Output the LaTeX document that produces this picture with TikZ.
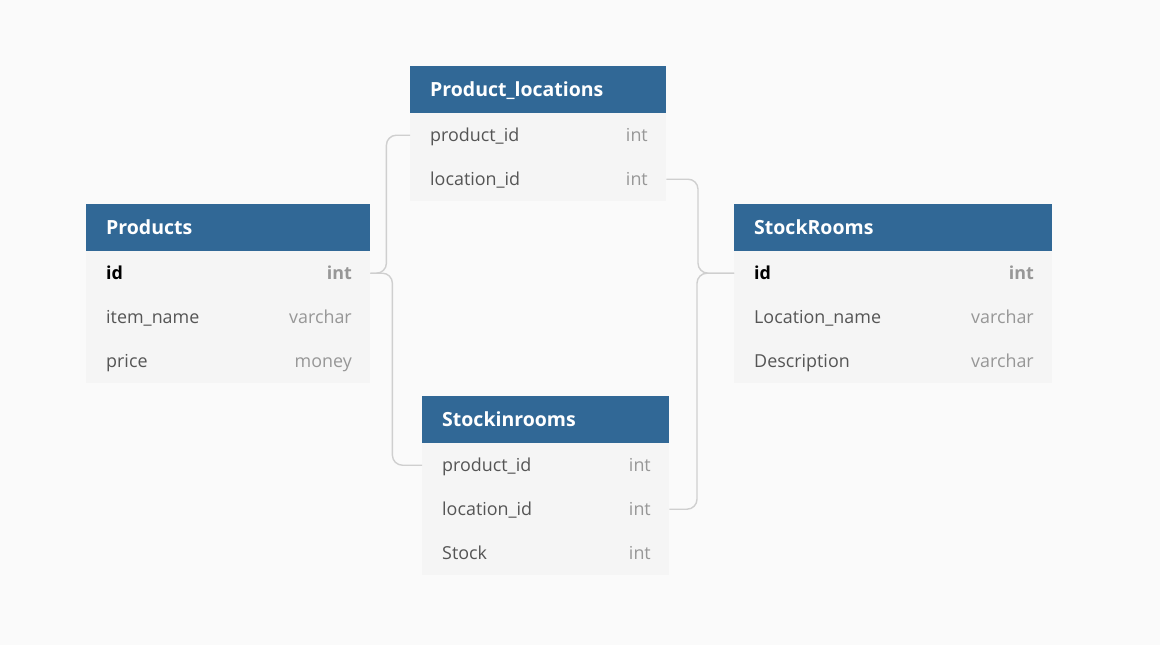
\documentclass[tikz,border=0pt]{standalone}
\usepackage{fontspec}
\setmainfont{Open Sans}
\definecolor{bg}{HTML}{FAFAFA}
\definecolor{hdr}{HTML}{316896}
\definecolor{rowbg}{HTML}{F5F5F5}
\definecolor{fld}{HTML}{555555}
\definecolor{typ}{HTML}{979797}
\definecolor{conn}{HTML}{CFCFCF}
\tikzset{
  hdrbox/.style={fill=hdr, draw=none, anchor=north west, minimum height=47pt, inner sep=0pt},
  rowbox/.style={fill=rowbg, draw=none, anchor=north west, minimum height=44pt, inner sep=0pt},
  hdrtext/.style={anchor=base west, text=white, font=\fontsize{19.5}{23}\selectfont\bfseries, inner sep=0pt, yshift=-7pt},
  fieldtext/.style={anchor=base west, text=fld, font=\fontsize{17.9}{21}\selectfont, inner sep=0pt, yshift=-6.5pt},
  typetext/.style={anchor=base east, text=typ, font=\fontsize{17.9}{21}\selectfont, inner sep=0pt, yshift=-6.5pt},
  pkfield/.style={anchor=base west, text=black, font=\fontsize{17.9}{21}\selectfont\bfseries, inner sep=0pt, yshift=-6.5pt},
  pktype/.style={anchor=base east, text=typ, font=\fontsize{17.9}{21}\selectfont\bfseries, inner sep=0pt, yshift=-6.5pt},
  link/.style={draw=conn, line width=1.4pt, rounded corners=10pt}
}
\begin{document}
\begin{tikzpicture}[x=1pt,y=-1pt]
\fill[bg] (0,0) rectangle (1160,645);
\useasboundingbox (0,0) rectangle (1160,645);

% Products
\node[hdrbox, minimum width=284pt] (p-h) at (86,204) {};
\node[rowbox, minimum width=284pt] (p-r1) at (86,251) {};
\node[rowbox, minimum width=284pt] (p-r2) at (86,295) {};
\node[rowbox, minimum width=284pt] (p-r3) at (86,339) {};
\node[hdrtext] (p-t) at (106,227) {Products};
\node[pkfield] (p-f1) at (106,273) {id};
\node[pktype] (p-y1) at (352,273) {int};
\node[fieldtext] (p-f2) at (106,317) {item\_name};
\node[typetext] (p-y2) at (352,317) {varchar};
\node[fieldtext] (p-f3) at (106,361) {price};
\node[typetext] (p-y3) at (352,361) {money};

% Product_locations
\node[hdrbox, minimum width=256pt] (pl-h) at (410,66) {};
\node[rowbox, minimum width=256pt] (pl-r1) at (410,113) {};
\node[rowbox, minimum width=256pt] (pl-r2) at (410,157) {};
\node[hdrtext] (pl-t) at (430,89) {Product\_locations};
\node[fieldtext] (pl-f1) at (430,135) {product\_id};
\node[typetext] (pl-y1) at (648,135) {int};
\node[fieldtext] (pl-f2) at (430,179) {location\_id};
\node[typetext] (pl-y2) at (648,179) {int};

% StockRooms
\node[hdrbox, minimum width=318pt] (sr-h) at (734,204) {};
\node[rowbox, minimum width=318pt] (sr-r1) at (734,251) {};
\node[rowbox, minimum width=318pt] (sr-r2) at (734,295) {};
\node[rowbox, minimum width=318pt] (sr-r3) at (734,339) {};
\node[hdrtext] (sr-t) at (754,227) {StockRooms};
\node[pkfield] (sr-f1) at (754,273) {id};
\node[pktype] (sr-y1) at (1034,273) {int};
\node[fieldtext] (sr-f2) at (754,317) {Location\_name};
\node[typetext] (sr-y2) at (1034,317) {varchar};
\node[fieldtext] (sr-f3) at (754,361) {Description};
\node[typetext] (sr-y3) at (1034,361) {varchar};

% Stockinrooms
\node[hdrbox, minimum width=247pt] (si-h) at (422,396) {};
\node[rowbox, minimum width=247pt] (si-r1) at (422,443) {};
\node[rowbox, minimum width=247pt] (si-r2) at (422,487) {};
\node[rowbox, minimum width=247pt] (si-r3) at (422,531) {};
\node[hdrtext] (si-t) at (442,419) {Stockinrooms};
\node[fieldtext] (si-f1) at (442,465) {product\_id};
\node[typetext] (si-y1) at (651,465) {int};
\node[fieldtext] (si-f2) at (442,509) {location\_id};
\node[typetext] (si-y2) at (651,509) {int};
\node[fieldtext] (si-f3) at (442,553) {Stock};
\node[typetext] (si-y3) at (651,553) {int};

% Connectors
\draw[link] (p-r1.east) -- ++(16,0) |- (pl-r1.west);
\draw[link] (p-r1.east) -- ++(22,0) |- (si-r1.west);
\draw[link] (sr-r1.west) -- ++(-36,0) |- (pl-r2.east);
\draw[link] (sr-r1.west) -- ++(-37,0) |- (si-r2.east);
\end{tikzpicture}
\end{document}
